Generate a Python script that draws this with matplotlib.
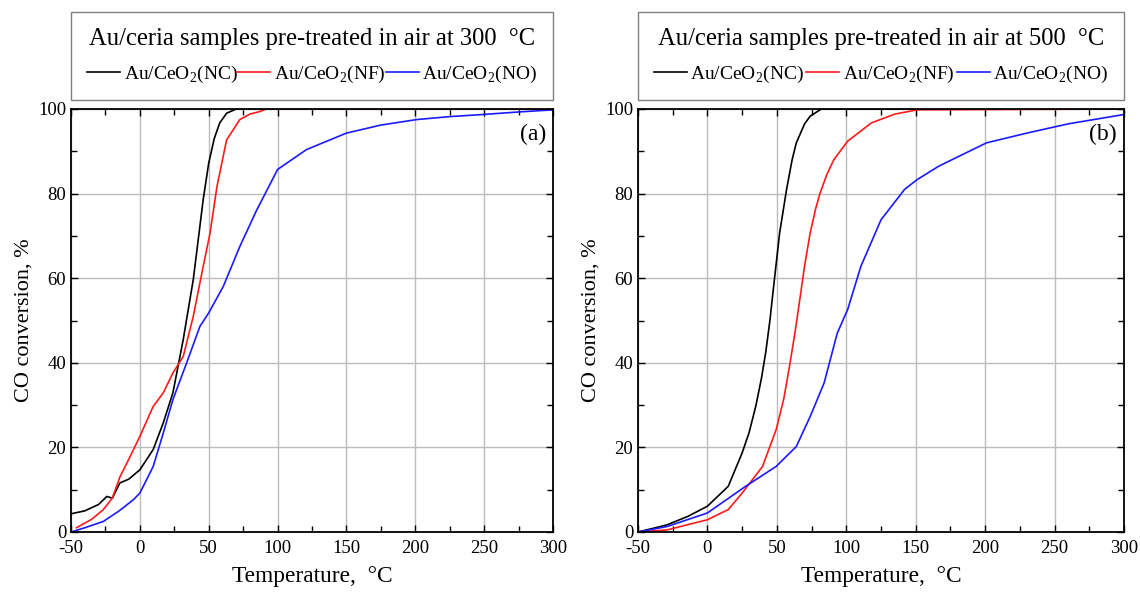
import numpy as np
import matplotlib
matplotlib.use('Agg')
import matplotlib.pyplot as plt
from matplotlib.ticker import MultipleLocator

plt.rcParams['font.family'] = ['Liberation Serif', 'DejaVu Serif']
plt.rcParams['mathtext.fontset'] = 'custom'
plt.rcParams['mathtext.rm'] = 'Liberation Serif'
plt.rcParams['axes.unicode_minus'] = False

# panel (a): pre-treated at 300 C
a_nc_t = [-50, -40, -30, -24, -20, -14.5, -8, 0, 9.7, 17, 24, 31.5, 38.8, 46, 50, 54, 58, 63, 70, 300]
a_nc_y = [4.3, 5.0, 6.5, 8.4, 8.0, 11.6, 12.5, 14.7, 19.5, 25.8, 32.9, 45.5, 59.7, 78.6, 87.2, 93.0, 96.7, 99.0, 100, 100]
a_nf_t = [-46, -35, -26.5, -20, -14.5, -7, 0, 9.7, 17, 24, 31.5, 38.8, 46, 51, 56, 63, 72.6, 80, 87, 92, 300]
a_nf_y = [1.0, 3.0, 5.3, 8.0, 13.0, 17.9, 22.6, 29.7, 32.9, 37.6, 41.5, 51.0, 62.8, 70.7, 81.7, 92.7, 97.5, 98.8, 99.4, 100, 100]
a_no_t = [-50, -40, -26.5, -15, -4.8, 0, 9.7, 17, 24, 34, 43.6, 50, 60.5, 72.6, 84.7, 100, 121, 150, 175, 201, 225, 249, 275, 300]
a_no_y = [0, 1.0, 2.5, 5.0, 7.6, 9.2, 15.5, 23.4, 31.3, 40.0, 48.6, 51.8, 58.0, 67.5, 76.0, 85.7, 90.4, 94.3, 96.2, 97.5, 98.2, 98.7, 99.3, 99.8]

# panel (b): pre-treated at 500 C
b_nc_t = [-50, -40, -29, -14, 0, 15, 25, 30, 34.8, 39, 42, 45, 48, 52, 57, 61, 64, 70, 74, 82, 300]
b_nc_y = [0, 0.8, 1.7, 3.7, 6.1, 10.8, 18.7, 23.5, 29.7, 36.5, 42.5, 50.0, 59.0, 70.7, 81.0, 88.0, 92.0, 96.5, 98.3, 100, 100]
b_nf_t = [-50, -29, 0, 15, 25, 39.7, 49.5, 55, 59, 63, 66.5, 70, 74, 78, 81, 86, 91, 101, 118, 135, 151, 300]
b_nf_y = [0, 0.5, 2.9, 5.3, 9.2, 15.5, 24.2, 31.5, 39.0, 47.0, 54.9, 63.0, 70.7, 76.5, 80.0, 84.5, 88.0, 92.4, 96.7, 98.8, 99.8, 100]
b_no_t = [-50, -29, 0, 27.5, 49.5, 64, 74, 84, 93.5, 101, 110.5, 125, 142, 151, 166.7, 201, 230, 260, 300]
b_no_y = [0, 1.3, 4.5, 10.8, 15.5, 20.2, 27.3, 35.2, 47.0, 52.6, 62.8, 73.8, 81.0, 83.3, 86.5, 92.0, 94.3, 96.5, 98.7]

labels = ['Au/CeO$_\\mathrm{2}$(NC)', 'Au/CeO$_\\mathrm{2}$(NF)', 'Au/CeO$_\\mathrm{2}$(NO)']
colors = ['black', '#ff1a1a', '#1a1aff']

panels = [
    ('(a)', 300, [(a_nc_t, a_nc_y), (a_nf_t, a_nf_y), (a_no_t, a_no_y)]),
    ('(b)', 500, [(b_nc_t, b_nc_y), (b_nf_t, b_nf_y), (b_no_t, b_no_y)]),
]

fig = plt.figure(figsize=(11.4, 5.94), dpi=100)
rects = [[71/1140, 62/594, 482/1140, 423/594], [638/1140, 62/594, 486/1140, 423/594]]

for rect, (tag, temp, series) in zip(rects, panels):
    ax = fig.add_axes(rect)
    for (t, y), c, lab in zip(series, colors, labels):
        ax.plot(t, y, color=c, lw=1.2, label=lab)
    ax.set_xlim(-50, 300)
    ax.set_ylim(0, 100)
    ax.xaxis.set_major_locator(MultipleLocator(50))
    ax.xaxis.set_minor_locator(MultipleLocator(25))
    ax.yaxis.set_major_locator(MultipleLocator(20))
    ax.yaxis.set_minor_locator(MultipleLocator(10))
    ax.grid(True, which='major', color='#bcbcbc', lw=1.0)
    ax.set_axisbelow(True)
    ax.tick_params(which='both', direction='in', top=True, right=True, labelsize=13.5)
    ax.tick_params(which='major', length=5, width=1)
    ax.tick_params(which='minor', length=4, width=1)
    ax.tick_params(axis='x', pad=6)
    for s in ax.spines.values():
        s.set_linewidth(1.3)
    ax.set_xlabel('Temperature,  °C', fontsize=16.8, labelpad=6)
    ax.set_ylabel('CO conversion, %', fontsize=16, labelpad=3)
    ax.text(0.985, 0.965, tag, transform=ax.transAxes, ha='right', va='top', fontsize=17)
    leg = ax.legend(loc='lower left', bbox_to_anchor=(0, 1.021, 1, 0.2), mode='expand',
                    ncol=3, fontsize=14, handlelength=1.7, handletextpad=0.2,
                    columnspacing=0.0, borderpad=0.8, labelspacing=0.7, borderaxespad=0,
                    title=f'Au/ceria samples pre-treated in air at {temp}  °C',
                    title_fontsize=17.7, fancybox=False, edgecolor='#808080', framealpha=1)
    leg.get_frame().set_linewidth(1.0)

fig.savefig('out.png', dpi=100)
